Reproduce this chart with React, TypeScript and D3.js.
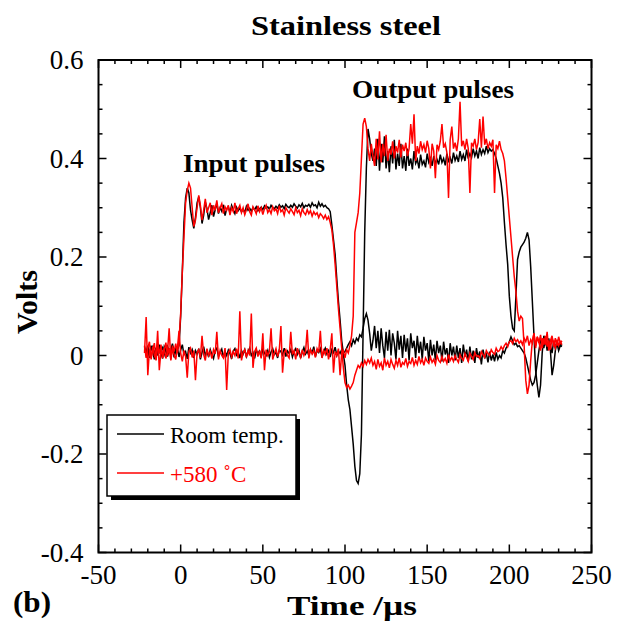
import React from "react";
import * as d3 from "d3";

// Sampling grid of the oscilloscope traces (µs)
const T_START = -22;
const T_STEP = 1;

// Values in mV, one per µs from -22 µs to 232 µs
const roomInput = [
  15, 8, 20, 5, 12, 18, 3, 14, 22, 6,
  10, 16, 2, 13, 19, 7, 11, 24, 4, 15,
  12, 20, 80, 170, 270, 320, 340, 330, 295, 275,
  258, 280, 310, 322, 300, 268, 285, 312, 298, 276,
  290, 305, 282, 296, 310, 288, 300, 293, 306, 284,
  298, 302, 290, 305, 296, 288, 301, 294, 299, 292,
  297, 290, 303, 295, 299, 293, 300, 296, 302, 294,
  298, 301, 296, 304, 299, 302, 297, 305, 300, 298,
  303, 299, 306, 301, 304, 298, 307, 302, 300, 305,
  301, 308, 303, 299, 306, 302, 309, 300, 305, 303,
  307, 301, 310, 304, 306, 300, 311, 303, 308, 302,
  305, 300, 298, 292, 265, 235, 205, 155, 110, 72,
  30, 5, 8, 15, 22, 28, 20, 32, 25, 35,
  30, 42, 38, 55, 75, 85, 72, 45, 10, 30,
  60, 15, 50, 5, 55, 20, -5, 48, 10, 52,
  0, 45, 25, -8, 50, 12, 40, -5, 42, 8,
  35, -10, 45, 15, 30, -5, 40, 5, 28, -8,
  38, 10, 25, -12, 32, 0, 22, -10, 30, 5,
  20, -12, 28, 2, 15, -15, 25, 0, 18, -10,
  20, -5, 15, -15, 22, -2, 12, -12, 18, -8,
  10, -15, 15, -5, 8, -18, 12, -6, 5, -14,
  8, -10, 2, -12, 6, -8, 0, -5, 10, 5,
  15, 20, 28, 38, 30, 22, 25, 18, 20, 15,
  10, 5, -5, -20, -35, -50, -60, -55, -40, -15,
  10, 30, 25, 15, 35, 10, 28, 20, 5, 30,
  15, 25, 10, 20, 18,
];

const roomOutput = [
  18, 2, 12, -5, 20, 8, -8, 15, 0, 22,
  5, -6, 18, 10, -2, 14, 3, 20, -4, 9,
  16, -3, 11, 22, 2, 8, -7, 17, 5, 12,
  -5, 10, 3, 14, -8, 6, 18, 0, 9, -3,
  12, 2, -6, 10, 15, -2, 6, 13, -4, 8,
  0, 11, 4, -7, 9, 14, 1, 7, -5, 10,
  3, 12, -2, 8, 15, 0, 6, -6, 11, 4,
  9, -3, 13, 5, 0, 10, -4, 7, 14, 2,
  6, -5, 11, 8, 1, 15, -2, 9, 4, 12,
  -3, 8, 14, 2, 10, -5, 7, 16, 3, 9,
  0, 12, 5, 18, -2, 10, 6, 14, -4, 8,
  15, 3, 10, -3, 12, 6, 17, 0, 9, 4,
  12, 2, -20, -60, -90, -110, -145, -180, -225, -254,
  -260, -240, -160, 45, 250, 380, 460, 440, 410, 395,
  420, 385, 440, 375, 430, 392, 445, 380, 415, 372,
  425, 390, 438, 378, 410, 385, 430, 380, 405, 375,
  420, 385, 400, 378, 415, 390, 398, 380, 408, 388,
  395, 382, 410, 392, 400, 385, 405, 390, 398, 388,
  408, 392, 400, 386, 410, 395, 402, 390, 412, 396,
  405, 393, 415, 398, 408, 395, 418, 400, 410, 402,
  420, 405, 415, 400, 422, 408, 418, 410, 425, 412,
  420, 415, 418, 410, 400, 385, 370, 350, 320, 270,
  225, 185, 120, 80, 55, 50, 120, 195, 210, 220,
  225, 230, 238, 250, 235, 180, 110, 40, -30, -60,
  -85, -60, 5, 40, 30, 15, 35, 10, -40, -20,
  10, 30, 15, 25, 20,
];

const hotInput = [
  20, -5, 15, 28, -8, 12, 25, -10, 18, 5,
  22, -6, 10, 26, 0, 15, -8, 20, 8, 24,
  5, 30, 85, 170, 240, 310, 335, 350, 340, 300,
  262, 275, 300, 325, 305, 275, 295, 318, 290, 300,
  310, 285, 305, 295, 315, 290, 300, 308, 288, 302,
  295, 305, 285, 300, 292, 310, 288, 298, 305, 290,
  300, 286, 296, 308, 292, 285, 302, 296, 288, 304,
  292, 300, 286, 298, 305, 290, 296, 288, 302, 294,
  298, 288, 304, 292, 296, 285, 300, 294, 289, 298,
  292, 286, 300, 290, 295, 284, 298, 290, 286, 296,
  288, 294, 283, 292, 286, 290, 280, 288, 284, 278,
  285, 276, 282, 270, 255, 225, 185, 140, 95, 55,
  15, -25, -55, -65, -60, -68, -62, -55, -40, -30,
  -20, -25, -15, -22, -10, -18, -8, -15, -5, -20,
  -12, -28, -8, -22, -15, -30, -5, -20, -12, -25,
  -8, -18, -26, -10, -20, -5, -24, -14, -18, -6,
  -22, -12, -16, -4, -20, -10, -18, -2, -15, -8,
  -20, -5, -12, -16, -3, -14, -8, -18, 0, -10,
  -14, -2, -12, -6, -16, 2, -10, -4, -12, 0,
  -8, -14, 2, -6, -10, 4, -4, -12, 5, -2,
  -8, 6, -2, 0, -6, 8, 2, -4, 10, 4,
  0, 12, 6, 2, 15, 8, 10, 18, 12, 20,
  25, 18, 28, 30, 24, 35, 28, 32, 25, 30,
  22, 35, 28, 40, 20, 32, 25, 45, 15, 38,
  28, 10, 35, 22, 40, 18, 30, 12, 36, 25,
  15, 32, 20, 28, 22,
];

const hotOutput = [
  5, 78, -40, 12, -5, 18, 0, -8, 50, -30,
  10, 3, 15, -6, 8, 55, -10, 12, 2, -8,
  14, 50, 5, -12, 10, -2, -45, 8, 15, -4,
  10, -50, 6, 12, -5, 40, 2, -10, 14, 0,
  8, -6, 12, 3, 48, -8, 10, 0, -5, 15,
  -70, 5, 12, -3, 8, 0, 14, -6, 90, -10,
  6, 12, -4, 10, 0, 85, -25, 8, 15, -2,
  10, -6, 45, -30, 12, 0, 8, 55, -8, 4,
  14, -2, 10, 60, -35, 6, 12, 0, -5, 48,
  2, 10, -8, 15, 4, -4, 12, 0, 8, 52,
  -6, 12, 3, 10, -4, 14, 6, 50, -5, 10,
  2, 15, -8, 12, 45, -35, 8, 0, 14, -40,
  6, 10, -5, 12, 5, 20, 40, 80, 250, 270,
  290, 330, 400, 470, 482, 465, 420, 395, 430, 405,
  385, 440, 398, 455, 392, 430, 405, 448, 395, 420,
  408, 435, 400, 425, 412, 438, 402, 428, 415, 432,
  405, 420, 470, 430, 490, 395, 425, 410, 435, 418,
  428, 412, 436, 420, 380, 430, 415, 360, 428, 418,
  435, 470, 422, 430, 412, 320, 438, 465, 420, 432,
  415, 440, 515, 425, 436, 418, 440, 420, 330, 432,
  425, 440, 418, 432, 480, 422, 485, 428, 440, 420,
  432, 425, 438, 330, 428, 420, 435, 418, 410, 395,
  360, 320, 280, 240, 200, 160, 130, 90, 70, 80,
  75, 20, -50, -78, -60, -10, 30, 45, 20, 38,
  25, 42, 15, 35, 22, 48, 10, 30, 40, 18,
  35, 20, 38, 25, 30,
];

const xTicks = [-50, 0, 50, 100, 150, 200, 250];
const xMinorTicks = d3.range(-40, 250, 10);
const yTicks = [-0.4, -0.2, 0, 0.2, 0.4, 0.6];
const yTickLabels = ["-0.4", "-0.2", "0", "0.2", "0.4", "0.6"];
const yMinorTicks = d3.range(-0.35, 0.6, 0.05);

const seriesNames = ["Room temp.", "+580 \u02DAC"];
const seriesColors = ["#000000", "#ff0000"];

const W = 618;
const H = 622;
const L = 98.5, R = 591.5, TOP = 60, BOT = 552.5;
const FONT = "Liberation Serif";

export default function App() {
  const x = d3.scaleLinear().domain([-50, 250]).range([L, R]);
  const y = d3.scaleLinear().domain([-0.4, 0.6]).range([BOT, TOP]);
  const line = d3
    .line<number>()
    .x((_, i) => x(T_START + i * T_STEP))
    .y((v) => y(v / 1000));

  const traces = [
    { data: roomInput, color: seriesColors[0] },
    { data: roomOutput, color: seriesColors[0] },
    { data: hotInput, color: seriesColors[1] },
    { data: hotOutput, color: seriesColors[1] },
  ];

  const isMajorX = (t: number) => xTicks.some((m) => Math.abs(m - t) < 1e-6);
  const isMajorY = (v: number) => yTicks.some((m) => Math.abs(m - v) < 1e-6);

  return (
    <svg
      width={W}
      height={H}
      style={{ position: "absolute", left: 0, top: 0, background: "#fff", fontFamily: FONT }}
    >
      <rect x={0} y={0} width={W} height={H} fill="#fff" />
      {/* title */}
      <text x={346} y={35} textAnchor="middle" fontSize={28} fontWeight="bold" textLength={190} lengthAdjust="spacingAndGlyphs">
        Stainless steel
      </text>

      {/* traces */}
      <g fill="none" strokeWidth={1.5} strokeLinejoin="miter">
        {traces.map((tr, i) => (
          <path key={i} d={line(tr.data) || ""} stroke={tr.color} />
        ))}
      </g>

      {/* frame */}
      <rect x={L} y={TOP} width={R - L} height={BOT - TOP} fill="none" stroke="#000" strokeWidth={2} />

      {/* ticks */}
      <g stroke="#000" strokeWidth={1.5}>
        {xMinorTicks.filter((t) => !isMajorX(t)).map((t) => (
          <g key={"xm" + t}>
            <line x1={x(t)} x2={x(t)} y1={BOT} y2={BOT - 4} />
            <line x1={x(t)} x2={x(t)} y1={TOP} y2={TOP + 4} />
          </g>
        ))}
        {xTicks.map((t) => (
          <g key={"xM" + t}>
            <line x1={x(t)} x2={x(t)} y1={BOT} y2={BOT - 8} />
            <line x1={x(t)} x2={x(t)} y1={TOP} y2={TOP + 8} />
          </g>
        ))}
        {yMinorTicks.filter((v) => !isMajorY(v)).map((v) => (
          <g key={"ym" + v}>
            <line x1={L} x2={L + 4} y1={y(v)} y2={y(v)} />
            <line x1={R} x2={R - 4} y1={y(v)} y2={y(v)} />
          </g>
        ))}
        {yTicks.map((v) => (
          <g key={"yM" + v}>
            <line x1={L} x2={L + 8} y1={y(v)} y2={y(v)} />
            <line x1={R} x2={R - 8} y1={y(v)} y2={y(v)} />
          </g>
        ))}
      </g>

      {/* tick labels */}
      <g fontSize={27}>
        {xTicks.map((t) => (
          <text key={"xl" + t} x={x(t)} y={584} textAnchor="middle">
            {String(t)}
          </text>
        ))}
        {yTicks.map((v, i) => (
          <text key={"yl" + v} x={L - 15} y={y(v) + 9} textAnchor="end">
            {yTickLabels[i]}
          </text>
        ))}
      </g>

      {/* axis titles */}
      <text x={287} y={615} fontSize={28} fontWeight="bold" textLength={130} lengthAdjust="spacingAndGlyphs">
        Time /µs
      </text>
      <text transform="translate(37,302) rotate(-90)" textAnchor="middle" fontSize={29} fontWeight="bold" textLength={64} lengthAdjust="spacingAndGlyphs">
        Volts
      </text>
      <text x={13} y={612} fontSize={29} fontWeight="bold" textLength={38} lengthAdjust="spacingAndGlyphs">
        (b)
      </text>

      {/* annotations */}
      <text x={183} y={172} fontSize={25} fontWeight="bold" textLength={142} lengthAdjust="spacingAndGlyphs">
        Input pulses
      </text>
      <text x={352} y={98} fontSize={26} fontWeight="bold" textLength={162} lengthAdjust="spacingAndGlyphs">
        Output pulses
      </text>

      {/* legend */}
      <g>
        <rect x={111} y={419} width={189} height={81} fill="#000" />
        <rect x={107} y={415} width={189} height={81} fill="#fff" stroke="#000" strokeWidth={1.5} />
        {seriesNames.map((name, i) => (
          <g key={name}>
            <line x1={117} x2={164} y1={434 + i * 39} y2={434 + i * 39} stroke={seriesColors[i]} strokeWidth={1.4} />
            <text x={170} y={443 + i * 39} fontSize={23} fill={seriesColors[i]}>
              {name}
            </text>
          </g>
        ))}
      </g>
    </svg>
  );
}
